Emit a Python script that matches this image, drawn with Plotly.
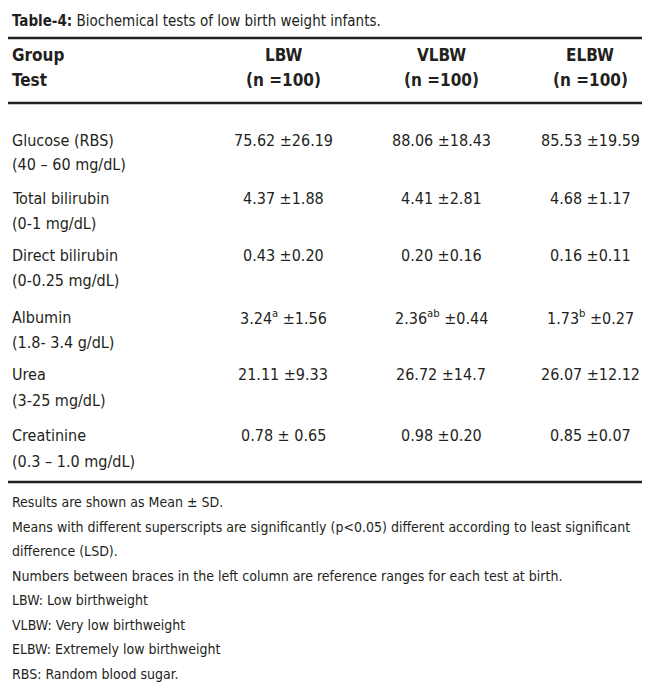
import plotly.graph_objects as go

title_bold = "Table-4:"
title_rest = " Biochemical tests of low birth weight infants."
groups = ["LBW", "VLBW", "ELBW"]
group_n = ["(n =100)", "(n =100)", "(n =100)"]
tests = ["Glucose (RBS)", "Total bilirubin", "Direct bilirubin", "Albumin", "Urea", "Creatinine"]
ranges = ["(40 – 60 mg/dL)", "(0-1 mg/dL)", "(0-0.25 mg/dL)", "(1.8- 3.4 g/dL)", "(3-25 mg/dL)", "(0.3 – 1.0 mg/dL)"]
lbw = ["75.62 ±26.19", "4.37 ±1.88", "0.43 ±0.20", "3.24<sup>a</sup> ±1.56", "21.11 ±9.33", "0.78 ± 0.65"]
vlbw = ["88.06 ±18.43", "4.41 ±2.81", "0.20 ±0.16", "2.36<sup>ab</sup> ±0.44", "26.72 ±14.7", "0.98 ±0.20"]
elbw = ["85.53 ±19.59", "4.68 ±1.17", "0.16 ±0.11", "1.73<sup>b</sup> ±0.27", "26.07 ±12.12", "0.85 ±0.07"]
notes = [
    "Results are shown as Mean ± SD.",
    "Means with different superscripts are significantly (p<0.05) different according to least significant",
    "difference (LSD).",
    "Numbers between braces in the left column are reference ranges for each test at birth.",
    "LBW: Low birthweight",
    "VLBW: Very low birthweight",
    "ELBW: Extremely low birthweight",
    "RBS: Random blood sugar.",
]

W, H = 650, 697
FONT = "Liberation Sans Narrow, DejaVu Sans Condensed, sans-serif"
C = "#231f20"
fig = go.Figure()
ann = []
def px(x): return x / W
def py(y): return 1 - y / H
def text(x, y, s, size=16, anchor="left", bold=False):
    if bold: s = "<b>" + s + "</b>"
    ann.append(dict(x=px(x), y=py(y), xref="paper", yref="paper", text=s, showarrow=False,
                    xanchor=anchor, yanchor="middle", font=dict(family=FONT, size=size, color=C)))

text(2, 13, "<b>" + title_bold + "</b>" + title_rest, size=15)
text(2, 47, "Group", bold=True, size=17)
text(2, 72, "Test", bold=True, size=17)
colx = [275, 433, 582]
for i, g in enumerate(groups):
    text(colx[i], 47, g, bold=True, anchor="center", size=17)
    text(colx[i], 72, group_n[i], bold=True, anchor="center", size=17)
rows_y = [132, 190, 247, 309, 367, 428]
for i, t in enumerate(tests):
    y = rows_y[i]
    text(2, y, t)
    text(2, y + 25, ranges[i])
    for j, col in enumerate([lbw, vlbw, elbw]):
        text(colx[j], y, col[i], anchor="center")
for k, n in enumerate(notes):
    text(2, 494 + k * 24.5, n, size=14)

shapes = []
for y, w in [(30, 2.5), (95, 2.5), (474, 2.5)]:
    shapes.append(dict(type="line", xref="paper", yref="paper", x0=0, x1=1, y0=py(y), y1=py(y),
                       line=dict(color=C, width=w)))

fig.update_layout(width=W, height=H, margin=dict(l=0, r=0, t=0, b=0),
                  paper_bgcolor="white", plot_bgcolor="white",
                  xaxis=dict(visible=False), yaxis=dict(visible=False),
                  annotations=ann, shapes=shapes)
fig.write_html("out.html")
